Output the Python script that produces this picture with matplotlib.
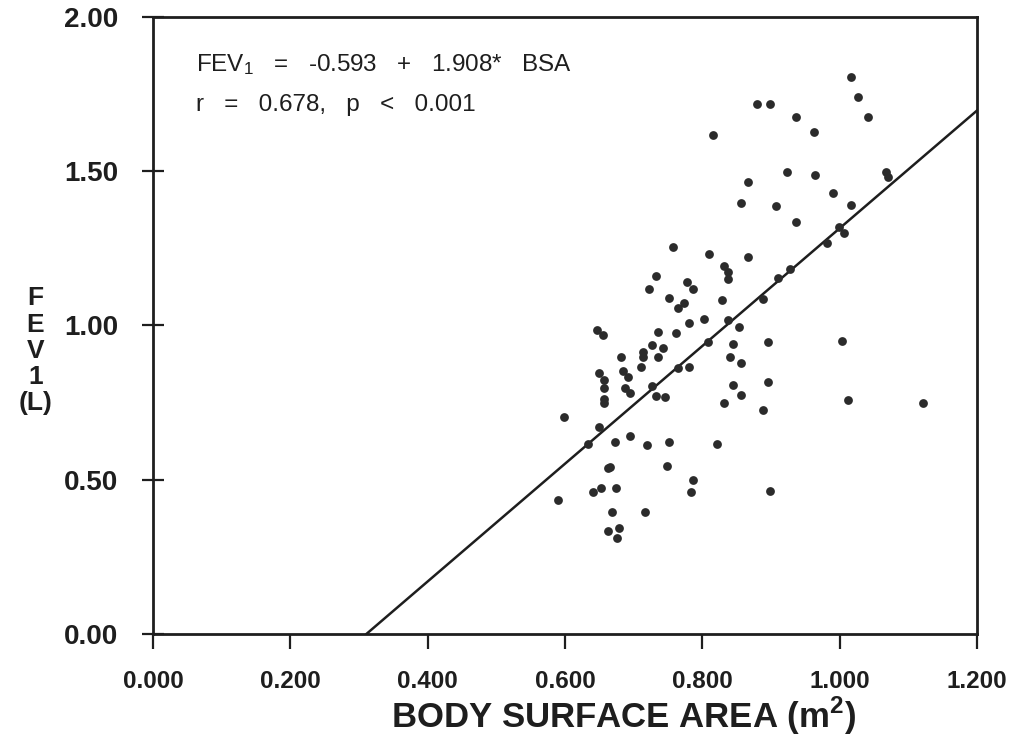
import matplotlib
matplotlib.use('Agg')
import matplotlib.pyplot as plt
import numpy as np

# BSA (m2) x FEV1 (L)
bsa = [0.880, 0.899, 0.816, 0.937, 0.962, 1.017, 1.026, 1.041, 0.924, 0.964,
       0.867, 0.990, 0.857, 0.907, 1.067, 1.071, 1.016, 0.937, 0.999, 1.007,
       0.981, 0.867, 0.927, 0.910, 0.888, 0.757, 0.809, 0.831, 0.838, 0.837,
       0.733, 0.722, 0.777, 0.787, 0.752, 0.773, 0.765, 0.829, 0.781, 0.802,
       0.736, 0.762, 0.838, 0.853, 0.647, 0.656, 0.726, 0.742, 0.713, 0.714,
       0.681, 0.736, 0.808, 0.845, 0.895, 1.004, 0.840, 0.856, 0.765, 0.780,
       0.710, 0.649, 0.657, 0.684, 0.692, 0.657, 0.657, 0.657, 0.688, 0.695,
       0.727, 0.733, 0.746, 0.845, 0.856, 0.896, 0.831, 0.889, 1.012, 1.122,
       0.598, 0.650, 0.633, 0.673, 0.695, 0.719, 0.751, 0.822, 0.662, 0.666,
       0.749, 0.787, 0.641, 0.652, 0.675, 0.784, 0.898, 0.590, 0.669, 0.716,
       0.662, 0.678, 0.676]
fev1 = [1.718, 1.718, 1.617, 1.676, 1.627, 1.805, 1.741, 1.676, 1.498, 1.488,
        1.465, 1.429, 1.397, 1.387, 1.498, 1.481, 1.391, 1.335, 1.319, 1.300,
        1.267, 1.222, 1.183, 1.154, 1.086, 1.254, 1.232, 1.193, 1.173, 1.151,
        1.160, 1.118, 1.141, 1.118, 1.089, 1.073, 1.057, 1.083, 1.008, 1.021,
        0.979, 0.976, 1.018, 0.995, 0.985, 0.969, 0.937, 0.927, 0.914, 0.898,
        0.898, 0.898, 0.947, 0.940, 0.947, 0.950, 0.898, 0.878, 0.862, 0.865,
        0.865, 0.846, 0.823, 0.853, 0.833, 0.797, 0.762, 0.749, 0.797, 0.781,
        0.804, 0.771, 0.768, 0.807, 0.775, 0.817, 0.749, 0.726, 0.759, 0.749,
        0.703, 0.671, 0.616, 0.622, 0.642, 0.613, 0.622, 0.616, 0.538, 0.541,
        0.545, 0.499, 0.460, 0.473, 0.473, 0.460, 0.464, 0.434, 0.395, 0.395,
        0.334, 0.344, 0.311]

# reta de regressao
intercepto = -0.593
inclinacao = 1.908

xticks = [0.0, 0.2, 0.4, 0.6, 0.8, 1.0, 1.2]
xticklabels = ['0.000', '0.200', '0.400', '0.600', '0.800', '1.000', '1.200']
yticks = [0.0, 0.5, 1.0, 1.5, 2.0]
yticklabels = ['0.00', '0.50', '1.00', '1.50', '2.00']

fonte = ['Liberation Sans', 'DejaVu Sans']
tinta = '#1e1e1e'

fig = plt.figure(figsize=(10.16, 7.37), dpi=100)
ax = fig.add_axes([0.1506, 0.1398, 0.8110, 0.8372])

ax.scatter(bsa, fev1, s=40, color='#2b2b2b', linewidths=0, zorder=3)

xr = np.array([-intercepto / inclinacao, 1.2])
ax.plot(xr, intercepto + inclinacao * xr, color=tinta, lw=1.8, zorder=2)

ax.set_xlim(0, 1.2)
ax.set_ylim(0, 2.0)
ax.set_xticks(xticks)
ax.set_xticklabels(xticklabels, family=fonte, fontweight='bold', fontsize=17.5)
ax.set_yticks(yticks)
ax.set_yticklabels(yticklabels, family=fonte, fontweight='bold', fontsize=20)
ax.tick_params(axis='x', direction='out', length=11, width=1.6, pad=15,
               colors=tinta)
ax.tick_params(axis='y', direction='inout', length=16, width=1.6, pad=17,
               colors=tinta)
for lado in ['left', 'bottom', 'top', 'right']:
    ax.spines[lado].set_linewidth(2.0)
    ax.spines[lado].set_color(tinta)

# rotulos dos eixos
fig.text(0.614, 0.0125, r'BODY SURFACE AREA (m$^\mathregular{2}$)', family=fonte,
         fontweight='bold', fontsize=25, color=tinta, ha='center',
         va='baseline')
fig.text(0.035, 0.524, 'F\nE\nV\n1\n(L)', family=fonte, fontweight='bold',
         fontsize=19, ha='center', va='center', multialignment='center',
         linespacing=1.12, color=tinta)

ax.text(0.052, 0.912, r'$\mathregular{FEV_1}$   =   -0.593   +   1.908*   BSA',
        transform=ax.transAxes, family=fonte, fontsize=17.5, color=tinta,
        va='baseline')
ax.text(0.052, 0.847, 'r   =   0.678,   p   <   0.001', transform=ax.transAxes,
        family=fonte, fontsize=17.5, color=tinta, va='baseline')

plt.savefig('out.png', dpi=100)
